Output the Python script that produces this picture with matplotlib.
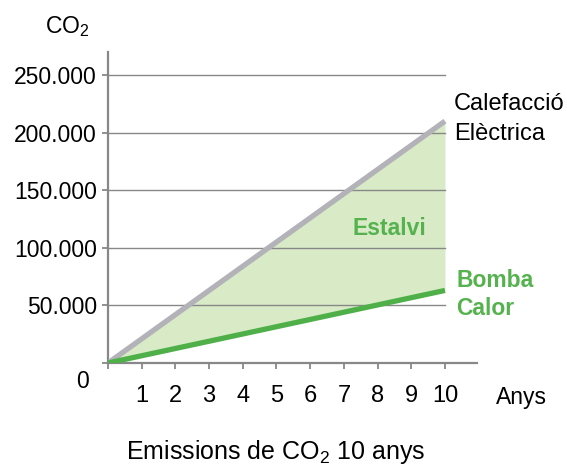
import matplotlib
matplotlib.use("Agg")
import matplotlib.pyplot as plt

# ---- data ----
years = [0, 10]
electric = [0, 210000]      # Calefacció Elèctrica
heatpump = [0, 63000]       # Bomba Calor
y_ticks = [0, 50000, 100000, 150000, 200000, 250000]
y_labels = ["", "50.000", "100.000", "150.000", "200.000", "250.000"]
x_ticks = list(range(0, 11))
x_labels = [""] + [str(i) for i in range(1, 11)]

plt.rcParams['font.family'] = ['Liberation Sans', 'DejaVu Sans']
plt.rcParams['mathtext.fontset'] = 'custom'
plt.rcParams['mathtext.rm'] = 'Liberation Sans'
plt.rcParams['mathtext.it'] = 'Liberation Sans'

GREY = "#b2b2b8"
GREEN = "#4fb04a"
FILL = "#d8eac6"
AX = "#888888"
TGREEN = "#55b24e"

W, H = 567, 468
fig = plt.figure(figsize=(W / 100, H / 100), dpi=100)
ax = fig.add_axes([108 / W, (H - 363) / H, 369 / W, (363 - 52) / H])
ax.set_xlim(0, 10.95)
ax.set_ylim(0, 270000)

ax.fill_between(years, heatpump, electric, color=FILL, lw=0, zorder=1)
for v in y_ticks[1:]:
    ax.plot([0, 10], [v, v], color=AX, lw=1.0, zorder=2)
ax.plot(years, electric, color=GREY, lw=3.8, solid_capstyle='butt', zorder=3)
ax.plot(years, heatpump, color=GREEN, lw=3.8, solid_capstyle='butt', zorder=4)

for s in ['top', 'right']:
    ax.spines[s].set_visible(False)
for s in ['left', 'bottom']:
    ax.spines[s].set_color(AX)
    ax.spines[s].set_linewidth(1.6)

ax.set_yticks(y_ticks)
ax.set_yticklabels(y_labels)
ax.set_xticks(x_ticks)
ax.set_xticklabels(x_labels)
ax.tick_params(axis='y', direction='out', length=4.5, width=1.3, color=AX,
               pad=3.5, labelsize=16.5)
ax.tick_params(axis='x', direction='out', length=4.5, width=1.3, color=AX,
               pad=11.5, labelsize=17)

def px(x, y):
    return (x / W, (H - y) / H)

fig.text(*px(45, 33), r"CO$_\mathrm{2}$", fontsize=16.5, ha='left', va='baseline')
fig.text(*px(82.7, 388), "0", fontsize=16.5, ha='center', va='baseline')
fig.text(*px(521, 404), "Anys", fontsize=16.5, ha='center', va='baseline')
fig.text(*px(454, 110), "Calefacció", fontsize=17, ha='left', va='baseline')
fig.text(*px(454, 140), "Elèctrica", fontsize=17, ha='left', va='baseline')
fig.text(*px(352.5, 235), "Estalvi", fontsize=16.5, ha='left', va='baseline',
         color=TGREEN, fontweight='bold')
fig.text(*px(456, 287), "Bomba", fontsize=16.5, ha='left', va='baseline',
         color=TGREEN, fontweight='bold')
fig.text(*px(456, 315), "Calor", fontsize=16.5, ha='left', va='baseline',
         color=TGREEN, fontweight='bold')
fig.text(*px(276, 459), r"Emissions de CO$_\mathrm{2}$ 10 anys", fontsize=18,
         ha='center', va='baseline')

fig.savefig("out.png", dpi=100)
